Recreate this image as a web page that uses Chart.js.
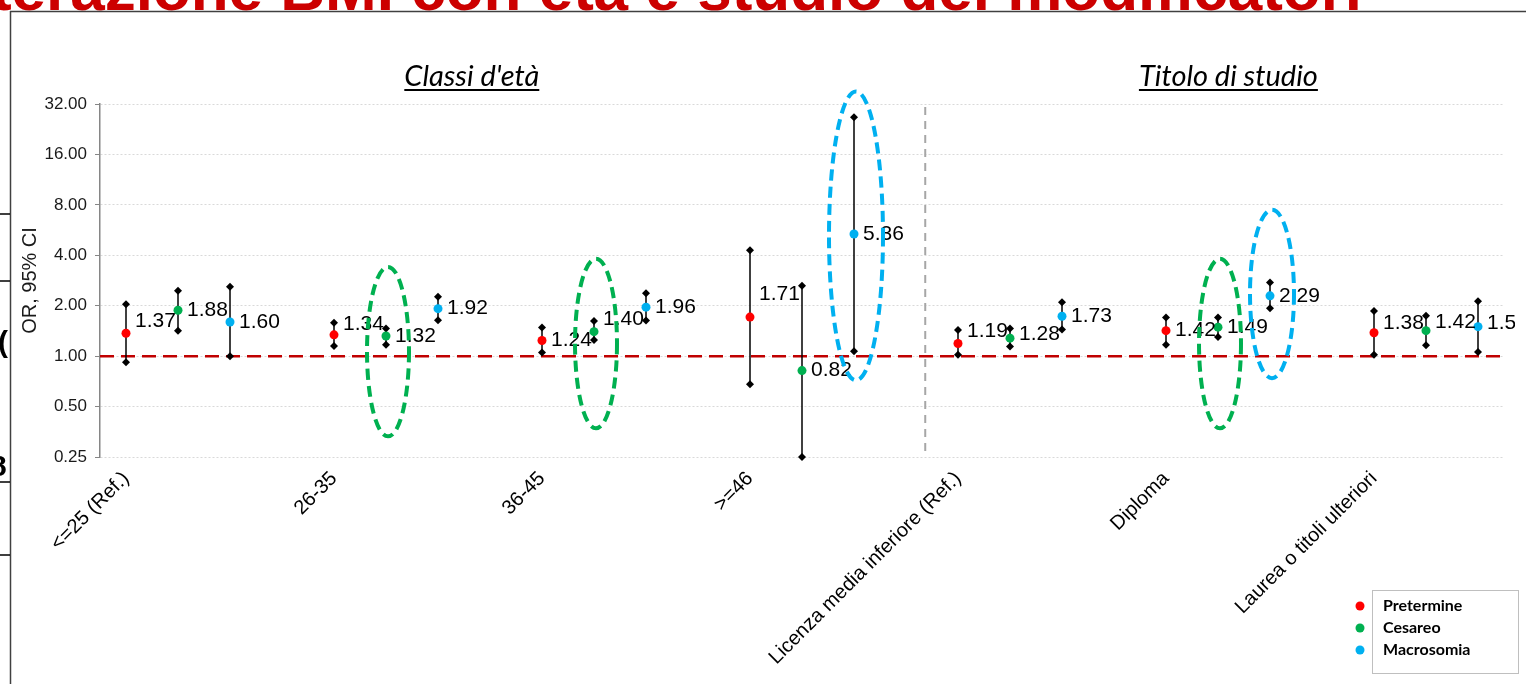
<!DOCTYPE html>
<html lang="it">
  <head>
    <meta charset="utf-8" />
    <title>OR, 95% CI</title>
    <script src="https://cdn.jsdelivr.net/npm/chart.js@4.4.1/dist/chart.umd.min.js"></script>
    <style>
      html, body { margin: 0; padding: 0; background: #fff; }
      canvas { display: block; }
    </style>
  </head>
  <body>
    <canvas id="chart" width="1526" height="684"></canvas>
    <script>
      // data
      const categories = ["<=25 (Ref.)", "26-35", "36-45", ">=46",
        "Licenza media inferiore (Ref.)", "Diploma", "Laurea o titoli ulteriori"];
      const yTicks = [0.25, 0.5, 1, 2, 4, 8, 16, 32];

      const pretermine = [1.37, 1.34, 1.24, 1.71, 1.19, 1.42, 1.38];
      const pretLo = [0.92, 1.15, 1.05, 0.68, 1.02, 1.17, 1.02];
      const pretHi = [2.04, 1.58, 1.48, 4.29, 1.43, 1.70, 1.86];

      const cesareo = [1.88, 1.32, 1.40, 0.82, 1.28, 1.49, 1.42];
      const cesLo = [1.42, 1.17, 1.25, 0.25, 1.14, 1.30, 1.16];
      const cesHi = [2.46, 1.46, 1.62, 2.63, 1.46, 1.70, 1.74];

      const macrosomia = [1.60, 1.92, 1.96, 5.36, 1.73, 2.29, 1.50];
      const macLo = [1.00, 1.64, 1.63, 1.07, 1.44, 1.93, 1.06];
      const macHi = [2.60, 2.26, 2.37, 26.7, 2.10, 2.75, 2.13];

      // layout / style
      const SLOT = 4; // red, green, blue, gap
      const xOf = (k, s) => k * SLOT + s;
      const FONT = '"Liberation Sans", Arial, sans-serif';

      const series = [
        { name: "Pretermine", color: "#ff0000", or: pretermine, lo: pretLo, hi: pretHi,
          lift: [12, 11, 0, 23, 12, 0, 10] },
        { name: "Cesareo", color: "#00b050", or: cesareo, lo: cesLo, hi: cesHi,
          lift: [0, 0, 12, 0, 4, 0, 8] },
        { name: "Macrosomia", color: "#00b0f0", or: macrosomia, lo: macLo, hi: macHi,
          lift: [0, 0, 0, 0, 0, 0, 3] },
      ];

      // dashed ellipses that highlight some estimates (series, category, span on the y axis)
      const highlights = [
        { s: 1, k: 1, top: 3.41, bottom: 0.332, rx: 21 },
        { s: 1, k: 2, top: 3.81, bottom: 0.371, rx: 21 },
        { s: 2, k: 3, top: 38, bottom: 0.718, rx: 27 },
        { s: 1, k: 5, top: 3.81, bottom: 0.371, rx: 21 },
        { s: 2, k: 5, top: 7.47, bottom: 0.739, rx: 22 },
      ];

      function diamond(ctx, x, y, r) {
        ctx.beginPath();
        ctx.moveTo(x, y - r);
        ctx.lineTo(x + r, y);
        ctx.lineTo(x, y + r);
        ctx.lineTo(x - r, y);
        ctx.closePath();
        ctx.fill();
      }

      const background = {
        id: "background",
        beforeDraw(chart) {
          const ctx = chart.ctx;
          ctx.save();
          ctx.fillStyle = "#fff";
          ctx.fillRect(0, 0, chart.width, chart.height);
          // slide title, mostly cut off
          ctx.fillStyle = "#cc0000";
          ctx.font = "bold 62px " + FONT;
          ctx.textAlign = "right";
          ctx.textBaseline = "alphabetic";
          ctx.fillText("Interazione BMI con età e studio dei modificatori", 1362, 10);
          ctx.fillStyle = "#fff";
          ctx.fillRect(0, 11, chart.width, chart.height);
          // frame
          ctx.strokeStyle = "#404040";
          ctx.lineWidth = 1.5;
          ctx.beginPath();
          ctx.moveTo(10, 11.5);
          ctx.lineTo(chart.width, 11.5);
          ctx.moveTo(10.5, 11);
          ctx.lineTo(10.5, chart.height);
          ctx.stroke();
          // bits of the slide on the left
          ctx.strokeStyle = "#000";
          ctx.beginPath();
          [214, 281, 482, 555].forEach((y) => { ctx.moveTo(0, y); ctx.lineTo(10, y); });
          ctx.stroke();
          ctx.fillStyle = "#000";
          ctx.font = "bold 30px " + FONT;
          ctx.textAlign = "left";
          ctx.fillText("(", -2, 352);
          ctx.fillText("8", -10, 476);
          ctx.restore();
        },
      };

      const errorBars = {
        id: "errorBars",
        beforeDatasetsDraw(chart) {
          const { ctx, chartArea, scales: { x, y } } = chart;
          ctx.save();
          // reference line at OR = 1
          const y1 = y.getPixelForValue(1);
          ctx.strokeStyle = "#c00000";
          ctx.lineWidth = 2.5;
          ctx.setLineDash([14, 7]);
          ctx.beginPath();
          ctx.moveTo(chartArea.left, y1);
          ctx.lineTo(chartArea.right, y1);
          ctx.stroke();
          // separator between the two groups
          const sx = x.getPixelForValue(15.37);
          ctx.strokeStyle = "#a6a6a6";
          ctx.lineWidth = 2;
          ctx.setLineDash([8, 6]);
          ctx.beginPath();
          ctx.moveTo(sx, chartArea.top + 3);
          ctx.lineTo(sx, chartArea.bottom);
          ctx.stroke();
          ctx.setLineDash([]);
          // confidence intervals
          ctx.strokeStyle = "#000";
          ctx.fillStyle = "#000";
          ctx.lineWidth = 1.5;
          series.forEach((s, si) => {
            categories.forEach((c, k) => {
              const px = x.getPixelForValue(xOf(k, si));
              const lo = y.getPixelForValue(s.lo[k]);
              const hi = y.getPixelForValue(s.hi[k]);
              ctx.beginPath();
              ctx.moveTo(px, lo);
              ctx.lineTo(px, hi);
              ctx.stroke();
              diamond(ctx, px, lo, 4);
              diamond(ctx, px, hi, 4);
            });
          });
          ctx.restore();
        },
      };

      const annotations = {
        id: "annotations",
        afterDatasetsDraw(chart) {
          const { ctx, scales: { x, y } } = chart;
          ctx.save();
          // value labels
          ctx.beginPath();
          ctx.rect(0, 0, 1515, chart.height);
          ctx.clip();
          ctx.fillStyle = "#000";
          ctx.font = "21px " + FONT;
          ctx.textAlign = "left";
          ctx.textBaseline = "middle";
          series.forEach((s, si) => {
            s.or.forEach((v, k) => {
              const px = x.getPixelForValue(xOf(k, si));
              const py = y.getPixelForValue(v);
              ctx.fillText(v.toFixed(2), px + 9, py - s.lift[k]);
            });
          });
          ctx.restore();
          // highlight ellipses
          ctx.save();
          ctx.lineWidth = 4;
          ctx.setLineDash([11, 6]);
          highlights.forEach((h) => {
            const cx = x.getPixelForValue(xOf(h.k, h.s)) + 2;
            const top = y.getPixelForValue(h.top);
            const bottom = y.getPixelForValue(h.bottom);
            ctx.strokeStyle = series[h.s].color;
            ctx.beginPath();
            ctx.ellipse(cx, (top + bottom) / 2, h.rx, (bottom - top) / 2, 0, 0, Math.PI * 2);
            ctx.stroke();
          });
          ctx.restore();
        },
        afterDraw(chart) {
          const { ctx, scales: { x } } = chart;
          ctx.save();
          // group titles
          ctx.fillStyle = "#000";
          ctx.font = 'italic 29px Lato, "Open Sans", sans-serif';
          ctx.textAlign = "center";
          ctx.textBaseline = "alphabetic";
          [["Classi d'età", 6.65], ["Titolo di studio", 21.2]].forEach(([t, pos]) => {
            const cx = x.getPixelForValue(pos);
            ctx.fillText(t, cx, 86);
            const w = ctx.measureText(t).width;
            ctx.fillRect(cx - w / 2, 89, w, 2);
          });
          // legend
          ctx.strokeStyle = "#bfbfbf";
          ctx.lineWidth = 1;
          ctx.strokeRect(1372.5, 590.5, 146, 83);
          ctx.font = 'bold 16px Lato, "Open Sans", sans-serif';
          ctx.textAlign = "left";
          ctx.textBaseline = "middle";
          series.forEach((s, si) => {
            const ly = 606 + si * 22;
            ctx.fillStyle = s.color;
            ctx.beginPath();
            ctx.arc(1360, ly, 4.5, 0, Math.PI * 2);
            ctx.fill();
            ctx.fillStyle = "#000";
            ctx.fillText(s.name, 1383, ly);
          });
          ctx.restore();
        },
      };

      new Chart(document.getElementById("chart"), {
        type: "scatter",
        data: {
          datasets: series.map((s, si) => ({
            label: s.name,
            data: categories.map((c, k) => ({ x: xOf(k, si), y: s.or[k] })),
            backgroundColor: s.color,
            borderColor: s.color,
            borderWidth: 0,
            pointRadius: 4.5,
            pointHoverRadius: 4.5,
          })),
        },
        options: {
          responsive: false,
          animation: false,
          events: [],
          layout: { padding: { top: 104, right: 22, left: 0, bottom: 0 } },
          plugins: { legend: { display: false }, tooltip: { enabled: false } },
          scales: {
            x: {
              type: "linear",
              min: -0.5,
              max: 26.5,
              afterBuildTicks: (sc) => {
                sc.ticks = categories.map((c, k) => ({ value: xOf(k, 0) }));
              },
              afterFit: (sc) => { sc.height = 227; },
              grid: { display: false, drawTicks: false },
              border: { display: false },
              ticks: {
                autoSkip: false,
                minRotation: 45,
                maxRotation: 45,
                padding: 10,
                color: "#000",
                font: { family: FONT, size: 20 },
                callback: (v, i) => categories[i],
              },
            },
            y: {
              type: "logarithmic",
              min: 0.25,
              max: 32,
              afterBuildTicks: (sc) => {
                sc.ticks = yTicks.map((v) => ({ value: v }));
              },
              afterFit: (sc) => { sc.width = 100; },
              grid: { color: "#d9d9d9", lineWidth: 1, tickLength: 5, tickColor: "#868686" },
              border: { display: true, color: "#868686", width: 1.5, dash: [2, 2] },
              ticks: {
                padding: 8,
                color: "#1a1a1a",
                font: { family: FONT, size: 17 },
                callback: (v) => Number(v).toFixed(2),
              },
              title: {
                display: true,
                text: "OR, 95% CI",
                color: "#1a1a1a",
                font: { family: FONT, size: 20 },
                padding: { top: 18, bottom: 0 },
              },
            },
          },
        },
        plugins: [background, errorBars, annotations],
      });
    </script>
  </body>
</html>
